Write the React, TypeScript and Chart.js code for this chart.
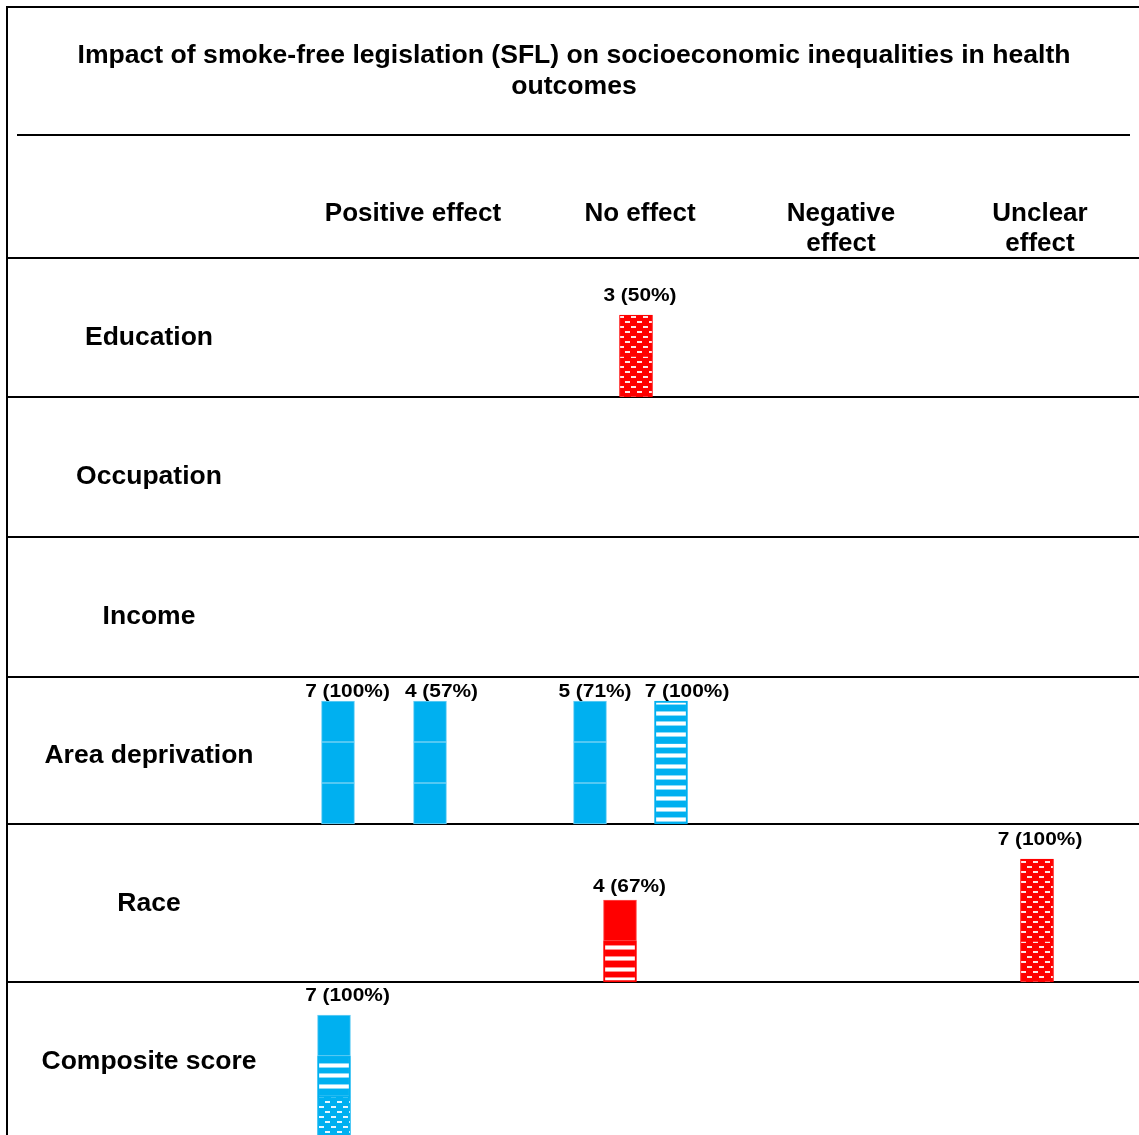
import { useEffect, useRef } from 'react';
import { Chart, registerables } from 'chart.js';

Chart.register(...registerables);

// ---------------- data ----------------
const TITLE_LINES = [
  'Impact of smoke-free legislation (SFL) on socioeconomic inequalities in health',
  'outcomes',
];
const EFFECT_COLUMNS = [['Positive effect'], ['No effect'], ['Negative', 'effect'], ['Unclear', 'effect']];
const ROW_LABELS = ['Education', 'Occupation', 'Income', 'Area deprivation', 'Race', 'Composite score'];

// one entry per bar
const BAR_ROW = [0, 3, 3, 3, 3, 4, 4, 5];
const BAR_POS = [1.98, 0.49, 0.95, 1.75, 2.155, 1.9, 3.985, 0.47]; // position along the effect axis (column units)
const BAR_LABELS = ['3 (50%)', '7 (100%)', '4 (57%)', '5 (71%)', '7 (100%)', '4 (67%)', '7 (100%)', '7 (100%)'];
// segments listed bottom -> top
const BAR_SEGMENTS = [
  ['redDots', 'redDots'],
  ['blue', 'blue', 'blue'],
  ['blue', 'blue', 'blue'],
  ['blue', 'blue', 'blue'],
  ['blueStripes', 'blueStripes', 'blueStripes'],
  ['redStripes', 'red'],
  ['redDots', 'redDots', 'redDots'],
  ['blueDots', 'blueStripes', 'blue'],
];
const STYLE_KEYS = ['blue', 'blueStripes', 'blueDots', 'red', 'redStripes', 'redDots'];

// ---------------- layout ----------------
const W = 1139;
const H = 1135;
const SEG_PX = 41;
const X_ORIGIN_PX = 240;
const COL_PX = 200;
const ROW_BOTTOM_PX = [397, 537, 677, 824, 982, 1138];
const ROW_LINES_PX = [258, 397, 537, 677, 824, 982];
const ROW_LABEL_BASE = [345, 484, 624, 763, 911, 1069];
const HEADER_X = [413, 640, 841, 1040];
const LABEL_DX = [4, 9.5, 11.5, 5, 16, 9.5, 3, 13.5];
const LABEL_GAP = [19, 9, 9, 9, 9, 13, 19, 19];
const FONT = '"Liberation Sans", Arial, sans-serif';
const BLUE = '#00B0F0';
const RED = '#FF0000';

function stripePattern(color: string): CanvasPattern {
  const c = document.createElement('canvas');
  c.width = 8;
  c.height = 32;
  const g = c.getContext('2d')!;
  g.fillStyle = color;
  g.fillRect(0, 0, 8, 32);
  for (const s of [0, 11, 21]) {
    g.fillStyle = 'rgba(255,255,255,0.55)';
    g.fillRect(0, s, 8, 1);
    g.fillRect(0, s + 4, 8, 1);
    g.fillStyle = '#ffffff';
    g.fillRect(0, s + 1, 8, 3);
  }
  const p = g.createPattern(c, 'repeat')!;
  p.setTransform(new DOMMatrix().translate(0, 28));
  return p;
}

function dotPattern(color: string): CanvasPattern {
  const c = document.createElement('canvas');
  c.width = 12;
  c.height = 10;
  const g = c.getContext('2d')!;
  g.fillStyle = color;
  g.fillRect(0, 0, 12, 10);
  g.fillStyle = 'rgba(255,255,255,0.9)';
  g.fillRect(1, 1, 5, 2);
  g.fillRect(7, 6, 5, 2);
  return g.createPattern(c, 'repeat')!;
}

export default function App() {
  const ref = useRef<HTMLCanvasElement>(null);

  useEffect(() => {
    const canvas = ref.current!;
    const fills: Record<string, string | CanvasPattern> = {
      blue: BLUE,
      blueStripes: stripePattern(BLUE),
      blueDots: dotPattern(BLUE),
      red: RED,
      redStripes: stripePattern(RED),
      redDots: dotPattern(RED),
    };
    const borders: Record<string, string> = {
      blue: '#6fd0f5',
      blueStripes: BLUE,
      blueDots: BLUE,
      red: '#ff5050',
      redStripes: RED,
      redDots: RED,
    };
    const borderW: Record<string, number> = {
      blue: 1,
      blueStripes: 2,
      blueDots: 1,
      red: 1,
      redStripes: 2,
      redDots: 1,
    };

    const rowBase = (r: number) => (H - ROW_BOTTOM_PX[r]) / SEG_PX;

    const datasets = STYLE_KEYS.map((key) => {
      const data: { x: number; y: [number, number] }[] = [];
      BAR_SEGMENTS.forEach((segs, i) => {
        const base = rowBase(BAR_ROW[i]);
        segs.forEach((s, k) => {
          if (s === key) data.push({ x: BAR_POS[i], y: [base + k, base + k + 1] });
        });
      });
      return {
        label: key,
        data,
        backgroundColor: fills[key],
        borderColor: borders[key],
        borderWidth: borderW[key],
        borderSkipped: false,
        barThickness: 33,
        grouped: false,
      };
    });

    const layoutPlugin = {
      id: 'harvestLayout',
      beforeDatasetsDraw(chart: any) {
        const ctx = chart.ctx as CanvasRenderingContext2D;
        ctx.save();
        ctx.fillStyle = '#000';
        // borders and lines
        ctx.fillRect(6, 6, W - 6, 2);
        ctx.fillRect(6, 6, 2, H - 6);
        ctx.fillRect(17, 134, 1113, 2);
        for (const y of ROW_LINES_PX) ctx.fillRect(6, y - 1, W - 6, 2);
        ctx.textAlign = 'center';
        ctx.textBaseline = 'alphabetic';
        // title
        ctx.font = `bold 26.6px ${FONT}`;
        TITLE_LINES.forEach((t, i) => ctx.fillText(t, 574, 63 + i * 31));
        // column headers
        ctx.font = `bold 26px ${FONT}`;
        EFFECT_COLUMNS.forEach((lines, c) => {
          lines.forEach((t, i) => ctx.fillText(t, HEADER_X[c], 221 + i * 30));
        });
        // row labels
        ctx.font = `bold 26.5px ${FONT}`;
        ROW_LABELS.forEach((t, r) => ctx.fillText(t, 149, ROW_LABEL_BASE[r]));
        ctx.restore();
      },
      afterDatasetsDraw(chart: any) {
        const ctx = chart.ctx as CanvasRenderingContext2D;
        const xs = chart.scales.x;
        const ys = chart.scales.y;
        ctx.save();
        ctx.fillStyle = '#000';
        ctx.font = `bold 18px ${FONT}`;
        ctx.textAlign = 'center';
        ctx.textBaseline = 'middle';
        BAR_LABELS.forEach((label, i) => {
          const top = ys.getPixelForValue(rowBase(BAR_ROW[i]) + BAR_SEGMENTS[i].length);
          const cx = xs.getPixelForValue(BAR_POS[i]) + LABEL_DX[i];
          ctx.save();
          ctx.translate(cx, top - LABEL_GAP[i]);
          ctx.scale(1.16, 1);
          ctx.fillText(label, 0, 0);
          ctx.restore();
        });
        ctx.restore();
      },
    };

    const chart = new Chart(canvas, {
      type: 'bar',
      data: { datasets } as any,
      options: {
        animation: false,
        responsive: false,
        devicePixelRatio: 1,
        layout: { padding: 0 },
        plugins: { legend: { display: false }, tooltip: { enabled: false }, title: { display: false } },
        scales: {
          x: {
            type: 'linear',
            display: false,
            offset: false,
            min: -X_ORIGIN_PX / COL_PX,
            max: (W - X_ORIGIN_PX) / COL_PX,
          },
          y: { type: 'linear', display: false, min: 0, max: H / SEG_PX },
        },
      } as any,
      plugins: [layoutPlugin],
    });
    return () => chart.destroy();
  }, []);

  return (
    <div style={{ position: 'absolute', left: 0, top: 0, width: W, height: H, background: '#fff' }}>
      <canvas ref={ref} width={W} height={H} style={{ display: 'block' }} />
    </div>
  );
}
